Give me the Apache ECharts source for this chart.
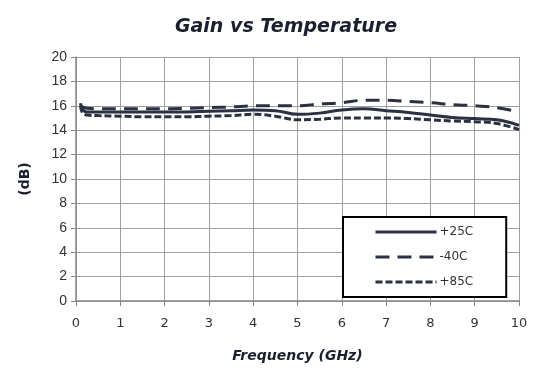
<!DOCTYPE html>
<html><head><meta charset="utf-8">
<script src="https://cdn.jsdelivr.net/npm/echarts@6/dist/echarts.min.js"></script>
<style>html,body{margin:0;padding:0;background:#fff}#c{width:557px;height:389px}</style>
</head><body><div id="c"></div>
<script>
var freq = [0.1, 0.15, 0.25, 0.5, 1, 1.5, 2, 2.5, 3, 3.5, 4, 4.5, 5, 5.5, 6, 6.5, 7, 7.5, 8, 8.5, 9, 9.5, 10];
var gain25 = [16.2, 15.7, 15.5, 15.5, 15.5, 15.5, 15.5, 15.5, 15.55, 15.6, 15.65, 15.6, 15.3, 15.4, 15.65, 15.75, 15.6, 15.45, 15.25, 15.05, 14.95, 14.85, 14.4];
var gainM40 = [16.0, 15.9, 15.8, 15.75, 15.75, 15.75, 15.75, 15.8, 15.85, 15.9, 16.0, 16.0, 16.0, 16.15, 16.25, 16.45, 16.45, 16.35, 16.25, 16.1, 16.0, 15.85, 15.5];
var gain85 = [16.0, 15.4, 15.25, 15.2, 15.15, 15.1, 15.1, 15.1, 15.15, 15.2, 15.3, 15.15, 14.85, 14.9, 15.0, 15.0, 15.0, 14.95, 14.85, 14.75, 14.7, 14.55, 14.05];
var seriesNames = ['+25C', '-40C', '+85C'];

function pairs(xs, ys){ return xs.map(function(x,i){ return [x, ys[i]]; }); }

var lineColor = '#2b3140';
var chart = echarts.init(document.getElementById('c'));
chart.setOption({
  animation: false,
  backgroundColor: '#fff',
  title: {
    text: 'Gain vs Temperature', left: 281, textAlign: 'center', top: 13,
    textStyle: { fontFamily: 'DejaVu Sans', fontSize: 19, fontWeight: 'bold', fontStyle: 'italic', color: '#1c1f2e' }
  },
  grid: { left: 76, right: 38, top: 57, bottom: 88 },
  legend: {
    orient: 'vertical', left: 343, top: 217,
    padding: [9, 33, 9, 31], itemGap: 13, itemWidth: 61, itemHeight: 14,
    backgroundColor: '#fff', borderColor: '#000', borderWidth: 2,
    itemStyle: { color: 'transparent', borderColor: 'transparent', borderWidth: 0 },
    lineStyle: { width: 3 },
    textStyle: { fontFamily: 'DejaVu Sans', fontSize: 12, color: '#333', padding: [0,0,0,-2] },
    data: seriesNames
  },
  xAxis: {
    type: 'value', min: 0, max: 10, interval: 1,
    name: 'Frequency (GHz)', nameLocation: 'middle', nameGap: 48,
    nameTextStyle: { fontFamily: 'DejaVu Sans', fontSize: 14, fontWeight: 'bold', fontStyle: 'italic', color: '#1c1f2e' },
    axisLine: { lineStyle: { color: '#888', width: 1.5 } },
    axisTick: { show: true, length: 5, lineStyle: { color: '#888' } },
    axisLabel: { margin: 16, fontFamily: 'DejaVu Sans', fontSize: 13, color: '#333' },
    splitLine: { show: true, lineStyle: { color: '#a0a0a0', width: 1 } }
  },
  yAxis: {
    type: 'value', min: 0, max: 20, interval: 2,
    name: '(dB)', nameLocation: 'middle', nameGap: 44, nameRotate: 90,
    nameTextStyle: { fontFamily: 'DejaVu Sans', fontSize: 14, fontWeight: 'bold', color: '#1c1f2e' },
    axisLine: { show: true, lineStyle: { color: '#888', width: 1.5 } },
    axisTick: { show: true, length: 5, lineStyle: { color: '#888' } },
    axisLabel: { margin: 9, fontFamily: 'Liberation Sans', fontSize: 14, color: '#333' },
    splitLine: { show: true, lineStyle: { color: '#a0a0a0', width: 1 } }
  },
  series: [
    { name: seriesNames[0], type: 'line', smooth: 0.4, symbol: 'none', data: pairs(freq, gain25),
      lineStyle: { color: lineColor, width: 3, type: 'solid' }, itemStyle: { color: lineColor } },
    { name: seriesNames[1], type: 'line', smooth: 0.4, symbol: 'none', data: pairs(freq, gainM40),
      lineStyle: { color: lineColor, width: 3, type: [14, 8] }, itemStyle: { color: lineColor } },
    { name: seriesNames[2], type: 'line', smooth: 0.4, symbol: 'none', data: pairs(freq, gain85),
      lineStyle: { color: lineColor, width: 3, type: [7, 3] }, itemStyle: { color: lineColor } }
  ]
});
</script></body></html>
